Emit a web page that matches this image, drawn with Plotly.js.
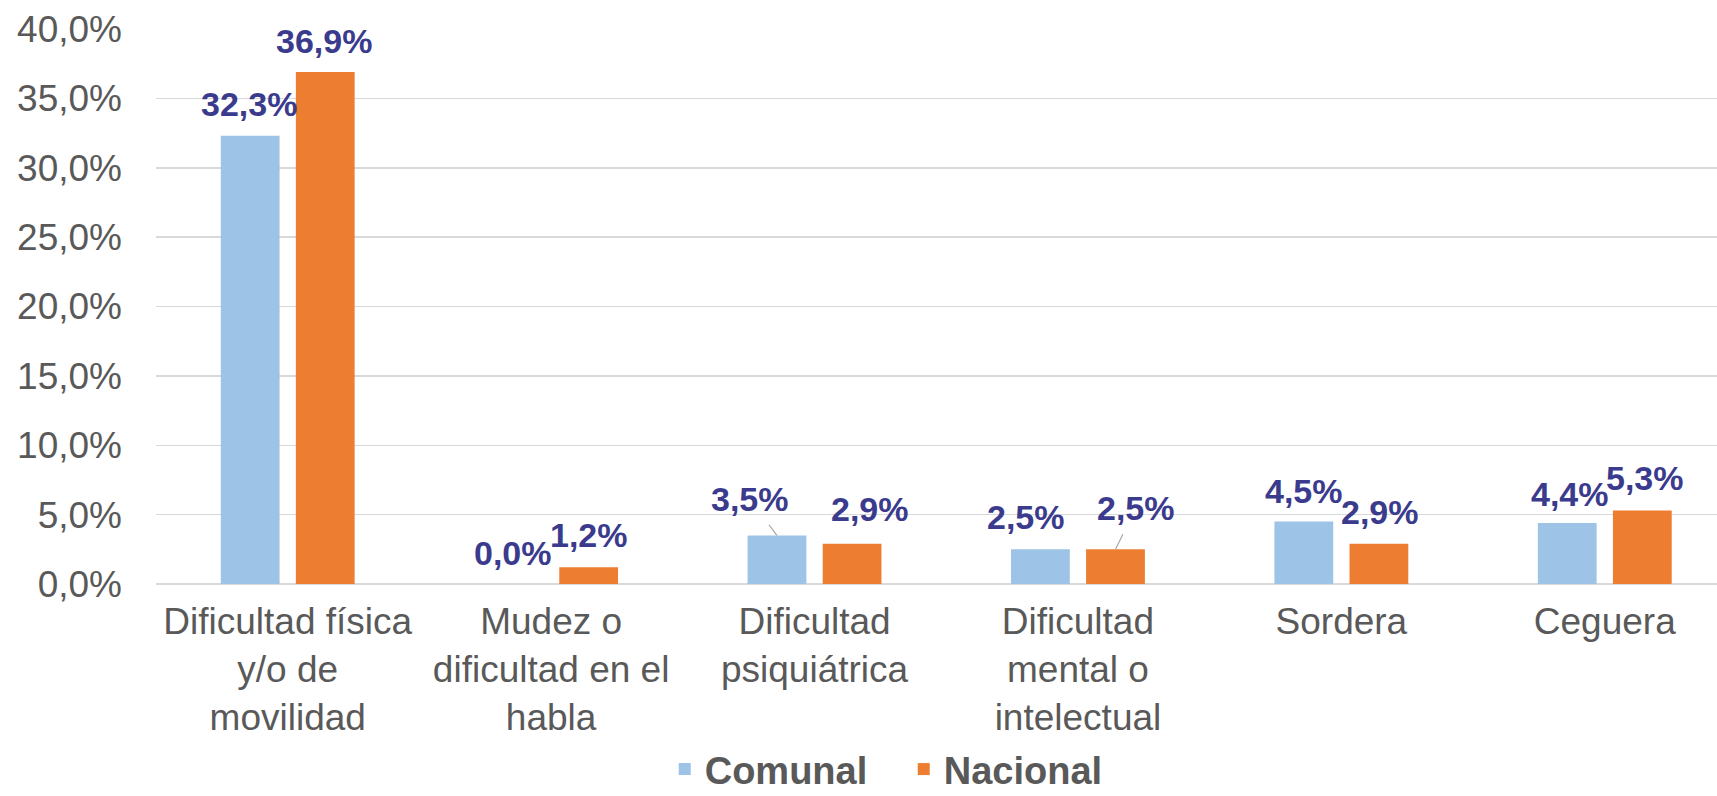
<!DOCTYPE html>
<html>
<head>
<meta charset="utf-8">
<script src="https://cdn.plot.ly/plotly-3.0.1.min.js"></script>
<style>
    html, body { margin: 0; padding: 0; background: #ffffff; }
    #chart { width: 1717px; height: 796px; }
</style>
</head>
<body>
<div id="chart"></div>
<script>
// Categories and values (percent)
const categories = [
    'Dificultad física<br>y/o de<br>movilidad',
    'Mudez o<br>dificultad en el<br>habla',
    'Dificultad<br>psiquiátrica',
    'Dificultad<br>mental o<br>intelectual',
    'Sordera',
    'Ceguera'
];
const comunal = [32.3, 0.0, 3.5, 2.5, 4.5, 4.4];
const nacional = [36.9, 1.2, 2.9, 2.5, 2.9, 5.3];
const seriesNames = ['Comunal', 'Nacional'];

// Label placement tweaks (pixels, relative to bar top centre) and leader lines
const comunalLabelShift = [[-1, -32], [-1, -31], [-27, -36], [-14, -32], [0, -31], [3, -29]];
const nacionalLabelShift = [[-1, -31], [0, -32], [18, -35], [20, -41], [1, -32], [3, -32]];
const comunalLeader = [false, false, true, false, false, false];
const nacionalLeader = [false, false, false, true, false, false];

const COLORS = { comunal: '#9DC3E6', nacional: '#ED7D31', label: '#3B3B8E', text: '#595959', grid: '#D9D9D9' };
const FONT = 'Liberation Sans, Arial, sans-serif';
const BAR_OFFSET = 0.1427; // centre of each bar from the category centre, in category units

function fmt(v) {
    return v.toFixed(1).replace('.', ',') + '%';
}

function makeLabels(values, shifts, leaders, side) {
    return values.map((v, i) => ({
        x: i + side * BAR_OFFSET,
        y: v,
        xref: 'x',
        yref: 'y',
        text: fmt(v),
        showarrow: true,
        ax: shifts[i][0],
        ay: shifts[i][1],
        arrowhead: 0,
        arrowwidth: 1.2,
        startstandoff: 6,
        arrowcolor: leaders[i] ? '#A6A6A6' : 'rgba(0,0,0,0)',
        font: { family: FONT, size: 34, color: COLORS.label, weight: 'bold' }
    }));
}

const traces = [
    {
        type: 'bar',
        name: seriesNames[0],
        x: categories,
        y: comunal,
        marker: { color: COLORS.comunal },
        hoverinfo: 'skip'
    },
    {
        type: 'bar',
        name: seriesNames[1],
        x: categories,
        y: nacional,
        marker: { color: COLORS.nacional },
        hoverinfo: 'skip'
    }
];

const layout = {
    width: 1717,
    height: 796,
    margin: { l: 156, r: 0, t: 29, b: 212, autoexpand: false },
    paper_bgcolor: '#ffffff',
    plot_bgcolor: '#ffffff',
    barmode: 'group',
    bargap: 0.43,
    bargroupgap: 0.217,
    separators: ',.',
    font: { family: FONT, color: COLORS.text },
    xaxis: {
        type: 'category',
        range: [-0.5, 5.426],
        autorange: false,
        automargin: false,
        showgrid: false,
        showline: false,
        zeroline: false,
        ticks: '',
        ticklabelstandoff: 12,
        tickfont: { family: FONT, size: 37, color: COLORS.text }
    },
    yaxis: {
        range: [0, 40],
        autorange: false,
        automargin: false,
        dtick: 5,
        tick0: 0,
        tickformat: '.1f',
        ticksuffix: '%',
        showgrid: true,
        gridcolor: COLORS.grid,
        gridwidth: 1.5,
        zeroline: true,
        zerolinecolor: COLORS.grid,
        zerolinewidth: 1.5,
        showline: false,
        ticks: '',
        ticklabelstandoff: 33,
        tickfont: { family: FONT, size: 37, color: COLORS.text }
    },
    showlegend: true,
    legend: {
        orientation: 'h',
        x: 0.479,
        xanchor: 'center',
        y: -0.334,
        yanchor: 'middle',
        entrywidth: 194,
        entrywidthmode: 'pixels',
        font: { family: FONT, size: 38, color: COLORS.text, weight: 'bold' },
        bgcolor: 'rgba(0,0,0,0)'
    },
    annotations: makeLabels(comunal, comunalLabelShift, comunalLeader, -1)
        .concat(makeLabels(nacional, nacionalLabelShift, nacionalLeader, 1))
};

Plotly.newPlot('chart', traces, layout, { staticPlot: true });
</script>
</body>
</html>
